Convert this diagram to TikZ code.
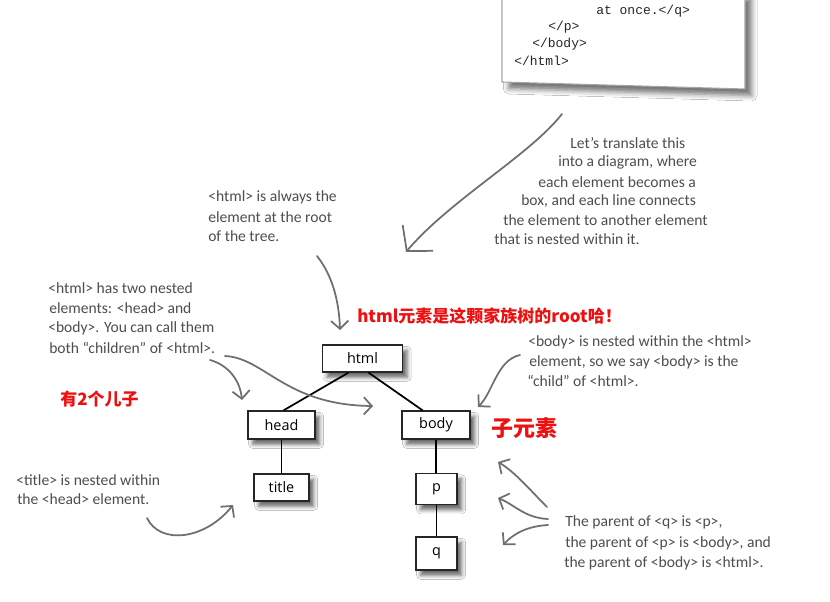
\documentclass[tikz,border=0pt]{standalone}
\usepackage{fontspec}
\setmainfont{Carlito}
\newfontfamily\handfont{Carlito}
\newfontfamily\boxfont{Open Sans}
\newfontfamily\codefont{Liberation Mono}
\newfontfamily\cjkfont{Noto Sans CJK SC}
\usetikzlibrary{arrows.meta,shadows.blur}
\definecolor{handgray}{RGB}{78,78,78}
\definecolor{arrowgray}{RGB}{110,110,110}
\definecolor{notered}{RGB}{238,16,16}
\definecolor{codeborder}{RGB}{165,165,165}
\tikzset{
  hand/.style={font=\handfont\fontsize{11.7}{14}\selectfont, text=handgray, anchor=west, inner sep=0pt},
  elem/.style={draw=black!85, line width=0.9pt, fill=white, font=\boxfont\fontsize{10.8}{12}\selectfont, inner sep=0pt,
    blur shadow={shadow xshift=3.5pt, shadow yshift=-4pt, shadow blur radius=3pt, shadow opacity=60}},
  treeline/.style={line width=1.3pt, black},
  harrow/.style={draw=arrowgray, line width=1.3pt, line cap=round, -{Straight Barb[length=6pt,width=13pt]}},
  bigarrow/.style={draw=arrowgray, line width=1.3pt, line cap=round, -{Straight Barb[length=13pt,width=30pt]}},
  redcjk/.style={font=\cjkfont\bfseries\fontsize{12.75}{14}\selectfont, text=notered, anchor=west, inner sep=0pt},
  codetext/.style={font=\codefont\fontsize{9.75}{12}\selectfont, text=black!85, anchor=west, inner sep=0pt},
}
\begin{document}
\begin{tikzpicture}[x=0.75pt,y=-0.75pt]
\useasboundingbox (0,0) rectangle (830,602);
\fill[white] (0,0) rectangle (830,602);

% code sheet
\path[draw=codeborder, line width=0.8pt, fill=white,
  blur shadow={shadow xshift=5pt, shadow yshift=-5pt, shadow blur radius=4pt, shadow opacity=55}]
  (502,-8) -- (502,82) -- (745,89) -- (745,-8) -- cycle;
\node[codetext] (c1) at (596,11) {at once.</q>};
\node[codetext] (c2) at (548,27) {</p>};
\node[codetext] (c3) at (532,44) {</body>};
\node[codetext] (c4) at (514,61) {</html>};

% tree
\node[elem, minimum width=60pt, minimum height=20.25pt] (html) at (362.5,358.5) {html};
\node[elem, minimum width=50.25pt, minimum height=21pt] (head) at (281.5,425) {head};
\node[elem, minimum width=51pt, minimum height=21pt] (body) at (436,425) {body};
\node[elem, minimum width=41.25pt, minimum height=20.25pt] (title) at (281.5,487.5) {title};
\node[elem, minimum width=30.75pt, minimum height=23.25pt] (p) at (436.5,489) {p};
\node[elem, minimum width=30.75pt, minimum height=24.75pt] (q) at (436.5,553.5) {q};

\draw[treeline] ([xshift=-10.5pt]html.south) -- ([xshift=1.5pt]head.north);
\draw[treeline] ([xshift=4.5pt]html.south) -- ([xshift=-10pt]body.north);
\draw[treeline] (head.south) -- (title.north);
\draw[treeline] (body.south) -- (body.south |- p.north);
\draw[treeline] (p.south) -- (q.north);

% annotation: translate
\node[hand] (t1) at (570,143) {Let’s translate this};
\node[hand] (t2) at (558,162) {into a diagram, where};
\node[hand] (t3) at (538,182) {each element becomes a};
\node[hand] (t4) at (521,201) {box, and each line connects};
\node[hand] (t5) at (503,220) {the element to another element};
\node[hand] (t6) at (494,239) {that is nested within it.};

% annotation: root
\node[hand] (r1) at (208,197) {<html> is always the};
\node[hand] (r2) at (208,217) {element at the root};
\node[hand] (r3) at (208,236) {of the tree.};

% annotation: two children
\node[hand] (h1) at (48,288) {<html> has two nested};
\node[hand] (h2) at (49,308) {elements: <head> and};
\node[hand] (h3) at (48,328) {<body>. You can call them};
\node[hand] (h4) at (49,348) {both “children” of <html>.};

% annotation: body child
\node[hand] (b1) at (528,342) {<body> is nested within the <html>};
\node[hand] (b2) at (529,362) {element, so we say <body> is the};
\node[hand] (b3) at (527,381) {“child” of <html>.};

% annotation: title
\node[hand] (e1) at (16,480) {<title> is nested within};
\node[hand] (e2) at (17,499) {the <head> element.};

% annotation: parents
\node[hand] (f1) at (565,522) {The parent of <q> is <p>,};
\node[hand] (f2) at (565,543) {the parent of <p> is <body>, and};
\node[hand] (f3) at (564,563) {the parent of <body> is <html>.};

% red notes
\node[redcjk] (n1) at (357,316) {html元素是这颗家族树的root哈！};
\node[redcjk] (n2) at (60,399) {有2个儿子};
\node[redcjk, font=\cjkfont\bfseries\fontsize{16.5}{18}\selectfont] (n3) at (491,428) {子元素};

% arrows
\coordinate (aA) at (562,114);
\coordinate (aB) at (406,252);
\draw[bigarrow] (aA) .. controls (530,155) and (450,200) .. (aB);

\coordinate (rA) at (317,256);
\coordinate (rB) at (340,330);
\draw[harrow] (rA) .. controls (332,275) and (339,300) .. (rB);

\coordinate (hA) at (210,360);
\coordinate (hB) at (242,400);
\draw[harrow] (hA) .. controls (228,365) and (240,380) .. (hB);

\coordinate (hC) at (225,356);
\coordinate (hD) at (373,406);
\draw[harrow] (hC) .. controls (265,358) and (285,405) .. (hD);

\coordinate (bA) at (520,355);
\coordinate (bB) at (478,407);
\draw[harrow] (bA) .. controls (497,360) and (493,392) .. (bB);

\coordinate (eA) at (147,518);
\coordinate (eB) at (233,505);
\draw[harrow] (eA) .. controls (160,545) and (205,540) .. (eB);

\coordinate (fA) at (547,507);
\coordinate (fB) at (498,462);
\draw[harrow] (fA) .. controls (530,490) and (515,472) .. (fB);
\coordinate (fC) at (548,519);
\coordinate (fD) at (498,498);
\draw[harrow] (fC) .. controls (525,518) and (515,505) .. (fD);
\coordinate (fE) at (548,525);
\coordinate (fF) at (503,545);
\draw[harrow] (fE) .. controls (530,526) and (515,532) .. (fF);
\end{tikzpicture}
\end{document}
